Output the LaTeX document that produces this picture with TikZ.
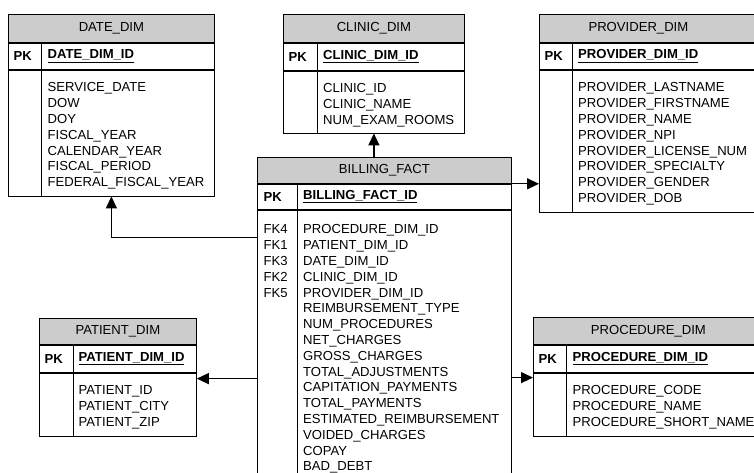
\documentclass[tikz,border=0pt]{standalone}
\usepackage{fontspec}
\setmainfont{Liberation Sans}
\usetikzlibrary{arrows.meta,positioning}

\begin{document}
\begin{tikzpicture}[
    x=1pt, y=-1pt,
    font=\fontsize{13.1}{15.8}\selectfont,
    head/.style={draw, fill=gray!40, line width=0.8pt, anchor=north west, inner sep=0pt, minimum height=#1},
    cell/.style={draw, line width=0.8pt, anchor=north west, inner sep=0pt, minimum height=#1},
    pklbl/.style={anchor=west, inner sep=0pt, font=\fontsize{13.1}{15.8}\selectfont\bfseries},
    fields/.style={anchor=north west, inner sep=0pt, align=left},
    arr/.style={-{Triangle[length=12pt, width=11pt]}, line width=1.2pt},
]
\clip (0,0) rectangle (754,473);

% DATE_DIM
\node[head=28, minimum width=206] (datehead) at (8,14) {DATE\_DIM};
\node[cell=26, minimum width=206] (datepk) at (datehead.south west) {};
\node[cell=126, minimum width=206] (datebody) at (datepk.south west) {};
\draw[line width=0.8pt] ([xshift=33.5pt]datepk.north west) -- ([xshift=33.5pt]datebody.south west);
\node[pklbl] (datepklbl) at ([xshift=5.5pt]datepk.west) {PK};
\node[pklbl] (datekey) at ([xshift=39.5pt]datepk.west) {\underline{DATE\_DIM\_ID}};
\node[fields] (datefields) at ([shift={(39.5pt,-13pt)}]datebody.north west)
  {SERVICE\_DATE\\DOW\\DOY\\FISCAL\_YEAR\\CALENDAR\_YEAR\\FISCAL\_PERIOD\\FEDERAL\_FISCAL\_YEAR};

% CLINIC_DIM
\node[head=28, minimum width=181] (clinichead) at (283,14) {CLINIC\_DIM};
\node[cell=27, minimum width=181] (clinicpk) at (clinichead.south west) {};
\node[cell=62, minimum width=181] (clinicbody) at (clinicpk.south west) {};
\draw[line width=0.8pt] ([xshift=34pt]clinicpk.north west) -- ([xshift=34pt]clinicbody.south west);
\node[pklbl] (clinicpklbl) at ([xshift=5.5pt]clinicpk.west) {PK};
\node[pklbl] (clinickey) at ([xshift=40pt]clinicpk.west) {\underline{CLINIC\_DIM\_ID}};
\node[fields] (clinicfields) at ([shift={(40pt,-13pt)}]clinicbody.north west)
  {CLINIC\_ID\\CLINIC\_NAME\\NUM\_EXAM\_ROOMS};

% PROVIDER_DIM
\node[head=28, minimum width=230] (provhead) at (539,14) {\hspace*{-32pt}PROVIDER\_DIM};
\node[cell=26, minimum width=230] (provpk) at (provhead.south west) {};
\node[cell=142, minimum width=230] (provbody) at (provpk.south west) {};
\draw[line width=0.8pt] ([xshift=33pt]provpk.north west) -- ([xshift=33pt]provbody.south west);
\node[pklbl] (provpklbl) at ([xshift=5.5pt]provpk.west) {PK};
\node[pklbl] (provkey) at ([xshift=39pt]provpk.west) {\underline{PROVIDER\_DIM\_ID}};
\node[fields] (provfields) at ([shift={(39pt,-13pt)}]provbody.north west)
  {PROVIDER\_LASTNAME\\PROVIDER\_FIRSTNAME\\PROVIDER\_NAME\\PROVIDER\_NPI\\PROVIDER\_LICENSE\_NUM\\PROVIDER\_SPECIALTY\\PROVIDER\_GENDER\\PROVIDER\_DOB};

% BILLING_FACT
\node[head=26, minimum width=254] (bfhead) at (257,157) {BILLING\_FACT};
\node[cell=25, minimum width=254] (bfpk) at (bfhead.south west) {};
\node[cell=290, minimum width=254] (bfbody) at (bfpk.south west) {};
\draw[line width=0.8pt] ([xshift=40pt]bfpk.north west) -- ([xshift=40pt]bfbody.south west);
\node[pklbl] (bfpklbl) at ([xshift=6.5pt]bfpk.west) {PK};
\node[pklbl] (bfkey) at ([xshift=46pt]bfpk.west) {\underline{BILLING\_FACT\_ID}};
\node[fields] (bffk) at ([shift={(6.5pt,-15pt)}]bfbody.north west)
  {FK4\\FK1\\FK3\\FK2\\FK5};
\node[fields] (bffields) at ([shift={(46pt,-15pt)}]bfbody.north west)
  {PROCEDURE\_DIM\_ID\\PATIENT\_DIM\_ID\\DATE\_DIM\_ID\\CLINIC\_DIM\_ID\\PROVIDER\_DIM\_ID\\
   REIMBURSEMENT\_TYPE\\NUM\_PROCEDURES\\NET\_CHARGES\\GROSS\_CHARGES\\TOTAL\_ADJUSTMENTS\\
   CAPITATION\_PAYMENTS\\TOTAL\_PAYMENTS\\ESTIMATED\_REIMBURSEMENT\\VOIDED\_CHARGES\\COPAY\\BAD\_DEBT};

% PATIENT_DIM
\node[head=26, minimum width=157] (pathead) at (39,318) {PATIENT\_DIM};
\node[cell=27, minimum width=157] (patpk) at (pathead.south west) {};
\node[cell=63, minimum width=157] (patbody) at (patpk.south west) {};
\draw[line width=0.8pt] ([xshift=34pt]patpk.north west) -- ([xshift=34pt]patbody.south west);
\node[pklbl] (patpklbl) at ([xshift=5.5pt]patpk.west) {PK};
\node[pklbl] (patkey) at ([xshift=39.5pt]patpk.west) {\underline{PATIENT\_DIM\_ID}};
\node[fields] (patfields) at ([shift={(39.5pt,-13pt)}]patbody.north west)
  {PATIENT\_ID\\PATIENT\_CITY\\PATIENT\_ZIP};

% PROCEDURE_DIM
\node[head=27, minimum width=230] (prochead) at (533,317) {PROCEDURE\_DIM};
\node[cell=27, minimum width=230] (procpk) at (prochead.south west) {};
\node[cell=63, minimum width=230] (procbody) at (procpk.south west) {};
\draw[line width=0.8pt] ([xshift=33pt]procpk.north west) -- ([xshift=33pt]procbody.south west);
\node[pklbl] (procpklbl) at ([xshift=5.5pt]procpk.west) {PK};
\node[pklbl] (prockey) at ([xshift=39.5pt]procpk.west) {\underline{PROCEDURE\_DIM\_ID}};
\node[fields] (procfields) at ([shift={(39.5pt,-13pt)}]procbody.north west)
  {PROCEDURE\_CODE\\PROCEDURE\_NAME\\PROCEDURE\_SHORT\_NAME};

% foreign key links
\coordinate (patin) at ([yshift=-6pt]patbody.north east);
\coordinate (procin) at ([yshift=-5pt]procbody.north west);
\draw[arr] ([yshift=-28pt]bfbody.north west) -| (datebody.south);
\draw[arr] (clinicbody.south |- bfhead.north) -- (clinicbody.south);
\draw[arr] (bfhead.south east) -- (bfhead.south east -| provbody.west);
\draw[arr] (patin -| bfbody.west) -- (patin);
\draw[arr] (procin -| bfbody.east) -- (procin);
\end{tikzpicture}
\end{document}
